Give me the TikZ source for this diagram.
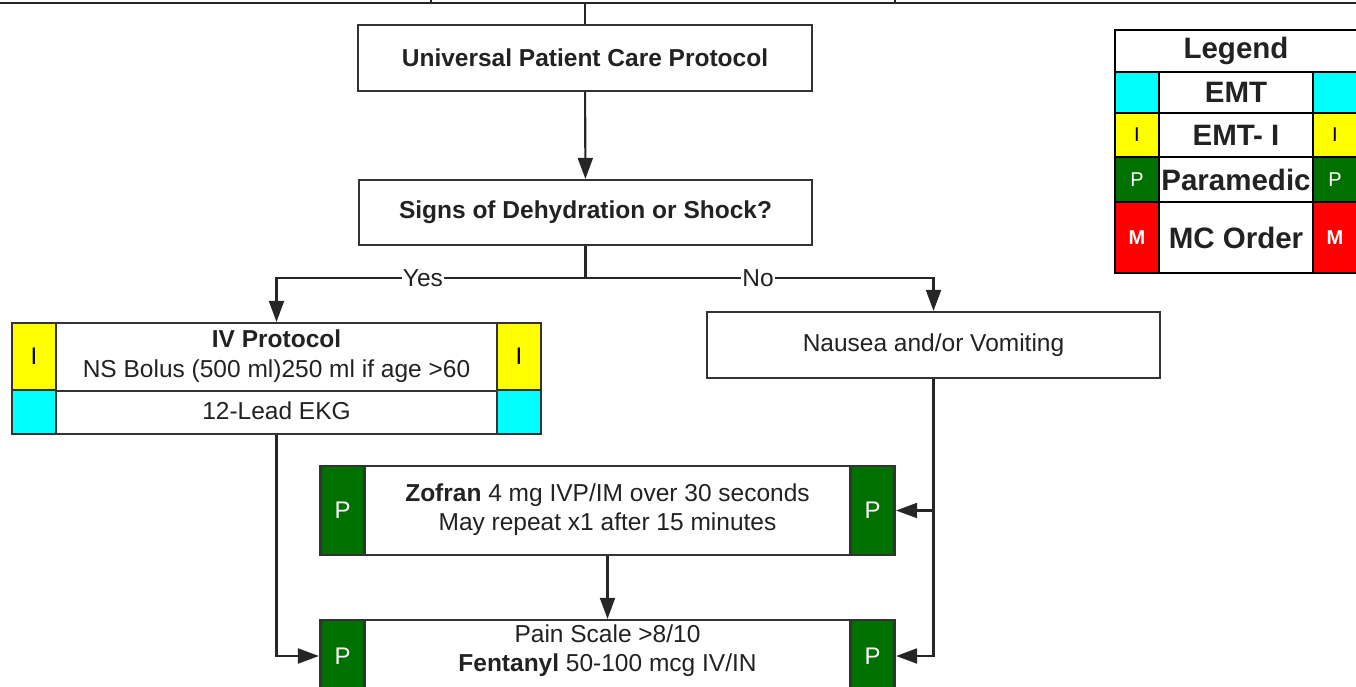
\documentclass[tikz,border=0pt]{standalone}
\usepackage{fontspec}
\setmainfont{Liberation Sans}
\usetikzlibrary{arrows.meta}
\definecolor{cemt}{RGB}{0,255,255}
\definecolor{cemti}{RGB}{255,255,0}
\definecolor{cpara}{RGB}{0,112,0}
\definecolor{cmc}{RGB}{255,0,0}
\definecolor{ink}{RGB}{34,34,34}
\newcommand{\fsmain}{\fontsize{24.5}{29.5}\selectfont}
\newcommand{\fsleg}{\fontsize{29.5}{32}\selectfont\bfseries}
\newcommand{\fscell}{\fontsize{24}{26}\selectfont}
\newcommand{\fslcell}{\fontsize{20}{22}\selectfont}
\begin{document}
\begin{tikzpicture}[x=1pt,y=-1pt,
  box/.style={draw=black!80, line width=2.2pt, fill=white, inner sep=0pt, text=ink, align=center},
  cell/.style={draw=black!80, line width=2.2pt, inner sep=0pt, font=\fscell, minimum width=44pt},
  lg/.style={draw=black, line width=2.4pt, fill=white, inner sep=0pt, font=\fsleg, text=ink},
  lcell/.style={draw=black, line width=2.4pt, inner sep=0pt, font=\fslcell, minimum width=44pt},
  txt/.style={inner sep=0pt, align=center, font=\fsmain, text=ink},
  conn/.style={draw=black!85, line width=2.1pt},
  arr/.style={conn, -{Triangle[length=21pt,width=15pt]}},
  lbl/.style={fill=white, inner sep=1pt, font=\fsmain, text=ink},
  divline/.style={draw=black!80, line width=2.2pt}
]
\useasboundingbox (0,0) rectangle (1356,687);
\clip (0,0) rectangle (1356,687);

% top fragment of previous section
\coordinate (tl) at (-5,3);
\coordinate (tr) at (1361,3);
\coordinate (t1a) at (431,-5);
\coordinate (t1b) at (431,3);
\coordinate (t2a) at (895,-5);
\coordinate (t2b) at (895,3);
\coordinate (top) at (585,3);
\draw[conn] (tl) -- (tr);
\draw[conn] (t1a) -- (t1b);
\draw[conn] (t2a) -- (t2b);

% main boxes
\node[box, minimum width=454pt, minimum height=66pt, font=\fsmain\bfseries] (upc) at (585,58) {Universal Patient Care Protocol};
\node[box, minimum width=453pt, minimum height=65pt, font=\fsmain\bfseries] (sds) at (585.5,212.5) {Signs of Dehydration or Shock?};

% IV protocol box
\node[box, minimum width=529pt, minimum height=111pt] (iv) at (276.5,378.5) {};
\node[cell, fill=cemti, minimum height=67pt] (ivIl) at (34,356.5) {I};
\node[cell, fill=cemt, minimum height=44pt] (ivEl) at (34,412) {};
\node[cell, fill=cemti, minimum height=67pt] (ivIr) at (519,356.5) {I};
\node[cell, fill=cemt, minimum height=44pt] (ivEr) at (519,412) {};
\draw[divline] (ivIl.south east) -- (ivIr.south west);
\node[txt] (ivt) at (276.5,356) {\textbf{IV Protocol}\\NS Bolus (500 ml)250 ml if age >60};
\node[txt] (ivk) at (276.5,411) {12-Lead EKG};

% Nausea
\node[box, minimum width=453pt, minimum height=66pt, font=\fsmain] (nau) at (933.5,345) {Nausea and/or Vomiting};

% Zofran
\node[box, minimum width=575pt, minimum height=89pt] (zof) at (607.5,510.5) {};
\node[cell, fill=cpara, text=white, minimum height=89pt] (zofl) at (342.5,510.5) {P};
\node[cell, fill=cpara, text=white, minimum height=89pt] (zofr) at (872.5,510.5) {P};
\node[txt] (zoft) at (607.5,509.5) {\textbf{Zofran} 4 mg IVP/IM over 30 seconds\\May repeat x1 after 15 minutes};

% Fentanyl
\node[box, minimum width=575pt, minimum height=72pt] (fen) at (607.5,656) {};
\node[cell, fill=cpara, text=white, minimum height=72pt] (fenl) at (342.5,656) {P};
\node[cell, fill=cpara, text=white, minimum height=72pt] (fenr) at (872.5,656) {P};
\node[txt] (fent) at (607.5,650.5) {Pain Scale >8/10\\\textbf{Fentanyl} 50-100 mcg IV/IN};

% connectors
\draw[conn] (top) -- (upc.north);
\draw[arr] (upc) -- (sds);
\coordinate (split) at (585.5,278);
\draw[conn] (sds.south) -- (split);
\draw[arr] (split) -| node[lbl, pos=0.263] {Yes} (iv.north);
\draw[arr] (split) -| node[lbl, pos=0.248] {No} (nau.north);
\draw[arr] (iv.south) |- (fen.west);
\draw[arr] (nau.south) |- (zof.east);
\draw[arr] (nau.south) |- (fen.east);
\draw[arr] (zof.south) -- (fen.north);

% legend
\node[lg, minimum width=242pt, minimum height=42pt] (lgT) at (1236,51) {Legend};
\node[lcell, fill=cemt, minimum height=41pt] (l1a) at (1137,92.5) {};
\node[lg, minimum width=154pt, minimum height=41pt] (l1b) at (1236,92.5) {EMT};
\node[lcell, fill=cemt, minimum height=41pt] (l1c) at (1335,92.5) {};
\node[lcell, fill=cemti, minimum height=44pt] (l2a) at (1137,135) {I};
\node[lg, minimum width=154pt, minimum height=44pt] (l2b) at (1236,135) {EMT- I};
\node[lcell, fill=cemti, minimum height=44pt] (l2c) at (1335,135) {I};
\node[lcell, fill=cpara, text=white, minimum height=45pt] (l3a) at (1137,179.5) {P};
\node[lg, minimum width=154pt, minimum height=45pt] (l3b) at (1236,179.5) {Paramedic};
\node[lcell, fill=cpara, text=white, minimum height=45pt] (l3c) at (1335,179.5) {P};
\node[lcell, fill=cmc, text=white, font=\fslcell\bfseries, minimum height=71pt] (l4a) at (1137,237.5) {M};
\node[lg, minimum width=154pt, minimum height=71pt] (l4b) at (1236,237.5) {MC Order};
\node[lcell, fill=cmc, text=white, font=\fslcell\bfseries, minimum height=71pt] (l4c) at (1335,237.5) {M};
\end{tikzpicture}
\end{document}
